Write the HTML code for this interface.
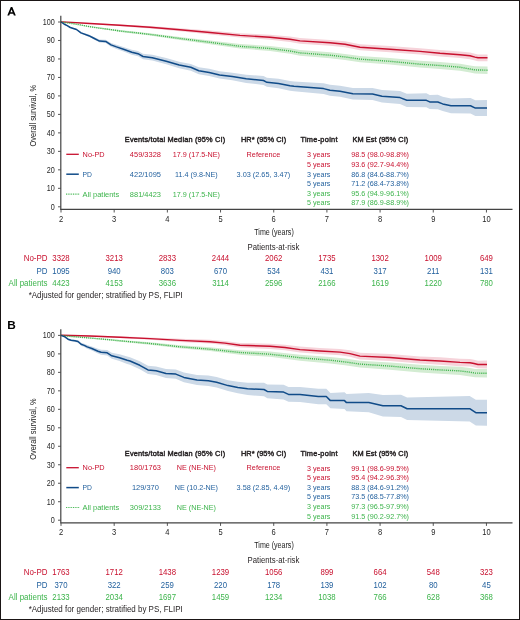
<!DOCTYPE html>
<html><head><meta charset="utf-8"><style>
html,body{margin:0;padding:0;background:#fff;}
svg{display:block;font-family:"Liberation Sans", sans-serif;will-change:transform;}
</style></head><body>
<svg width="520" height="620" viewBox="0 0 520 620">
<rect x="0" y="0" width="520" height="620" fill="#fff"/>
<path transform="translate(0,0.00)" fill-rule="evenodd" fill="#000" d="M7.3,15.6 L10.8,7.1 L12.3,7.1 L15.8,15.6 L13.9,15.6 L13.2,13.8 L9.9,13.8 L9.2,15.6 Z M10.45,12.3 L12.65,12.3 L11.55,9.4 Z"/>
<polygon points="61.00,21.80 70.00,22.90 80.00,24.48 90.00,26.17 100.00,27.55 110.00,28.74 120.00,30.12 150.00,33.18 180.00,36.93 210.00,40.40 240.00,44.10 270.00,46.00 290.00,48.30 300.00,50.10 330.00,52.26 345.00,53.88 360.00,56.01 390.00,58.07 420.00,60.82 440.00,62.03 460.00,63.63 470.00,65.38 475.00,66.26 487.50,66.50 487.50,73.90 475.00,73.54 470.00,72.62 460.00,70.77 440.00,68.97 420.00,67.58 390.00,64.53 360.00,62.19 345.00,59.92 330.00,58.14 300.00,55.70 290.00,53.70 270.00,51.00 240.00,48.50 210.00,44.20 180.00,40.07 150.00,35.62 120.00,31.88 110.00,30.26 100.00,28.85 90.00,27.23 80.00,25.32 70.00,23.50 61.00,22.20" fill="#d3ecd2" stroke="none"/>
<polygon points="61.00,21.80 62.30,21.69 90.00,22.97 120.00,24.42 150.00,26.08 180.00,28.23 210.00,30.60 240.00,33.20 270.00,34.70 290.00,36.50 300.00,38.10 330.00,39.90 345.00,41.26 360.00,44.31 390.00,46.11 420.00,48.21 440.00,50.05 460.00,51.39 470.00,52.45 475.00,53.74 478.00,54.43 487.50,54.40 487.50,61.20 478.00,61.17 475.00,60.46 470.00,59.15 460.00,58.01 440.00,56.55 420.00,54.59 390.00,52.29 360.00,50.29 345.00,47.14 330.00,45.70 300.00,43.70 290.00,41.90 270.00,39.70 240.00,37.60 210.00,34.40 180.00,31.37 150.00,28.52 120.00,26.18 90.00,24.03 62.30,22.11 61.00,22.20" fill="#f6d3da" stroke="none"/>
<polygon points="61.00,21.70 64.00,23.61 67.20,25.21 70.30,26.91 76.50,28.72 81.00,31.98 88.80,34.54 93.40,36.70 99.50,39.62 105.70,39.71 111.00,43.03 116.50,44.85 124.20,47.19 131.80,49.67 138.00,51.07 143.00,53.79 152.30,54.84 166.20,58.12 179.20,61.71 190.80,63.89 198.80,67.31 209.20,68.81 219.60,71.20 232.30,72.66 246.20,74.71 263.50,76.10 266.90,77.84 278.50,78.83 290.00,80.95 294.00,81.40 323.60,83.27 330.00,84.87 340.00,85.63 352.90,87.94 372.50,87.95 382.00,90.12 400.00,91.12 406.80,93.71 426.40,93.36 429.70,94.91 437.80,94.86 442.70,96.68 451.00,98.43 470.50,98.09 475.40,100.30 487.00,100.10 487.00,116.10 475.40,115.90 470.50,113.51 451.00,113.17 442.70,111.12 437.80,109.14 429.70,108.89 426.40,107.24 406.80,106.89 400.00,104.07 382.00,102.48 372.50,100.05 352.90,99.46 340.00,96.77 330.00,95.73 323.60,93.93 294.00,91.20 290.00,90.65 278.50,88.17 266.90,86.76 263.50,84.90 246.20,82.89 232.30,80.34 219.60,78.60 209.20,75.99 198.80,74.29 190.80,70.71 179.20,68.29 166.20,64.28 152.30,60.56 143.00,59.21 138.00,56.33 131.80,54.73 124.20,51.81 116.50,48.95 111.00,46.77 105.70,43.09 99.50,42.58 93.40,39.30 88.80,36.86 81.00,33.82 76.50,30.28 70.30,28.09 67.20,26.19 64.00,24.39 61.00,22.30" fill="#ccd9e7" stroke="none"/>
<polyline points="61.00,22.00 62.30,21.90 90.00,23.50 120.00,25.30 150.00,27.30 180.00,29.80 210.00,32.50 240.00,35.40 270.00,37.20 290.00,39.20 300.00,40.90 330.00,42.80 345.00,44.20 360.00,47.30 390.00,49.20 420.00,51.40 440.00,53.30 460.00,54.70 470.00,55.80 475.00,57.10 478.00,57.80 487.50,57.80" fill="none" stroke="#c8102e" stroke-width="1.45" stroke-linejoin="round"/>
<polyline points="61.00,22.00 70.00,23.20 80.00,24.90 90.00,26.70 100.00,28.20 110.00,29.50 120.00,31.00 150.00,34.40 180.00,38.50 210.00,42.30 240.00,46.30 270.00,48.50 290.00,51.00 300.00,52.90 330.00,55.20 345.00,56.90 360.00,59.10 390.00,61.30 420.00,64.20 440.00,65.50 460.00,67.20 470.00,69.00 475.00,69.90 487.50,70.20" fill="none" stroke="#3cb44b" stroke-width="1.4" stroke-linejoin="round" stroke-dasharray="1.1 1.0"/>
<polyline points="61.00,22.00 64.00,24.00 67.20,25.70 70.30,27.50 76.50,29.50 81.00,32.90 88.80,35.70 93.40,38.00 99.50,41.10 105.70,41.40 111.00,44.90 116.50,46.90 124.20,49.50 131.80,52.20 138.00,53.70 143.00,56.50 152.30,57.70 166.20,61.20 179.20,65.00 190.80,67.30 198.80,70.80 209.20,72.40 219.60,74.90 232.30,76.50 246.20,78.80 263.50,80.50 266.90,82.30 278.50,83.50 290.00,85.80 294.00,86.30 323.60,88.60 330.00,90.30 340.00,91.20 352.90,93.70 372.50,94.00 382.00,96.30 400.00,97.60 406.80,100.30 426.40,100.30 429.70,101.90 437.80,102.00 442.70,103.90 451.00,105.80 470.50,105.80 475.40,108.10 487.00,108.10" fill="none" stroke="#104b88" stroke-width="1.5" stroke-linejoin="round"/>
<line x1="60.8" y1="15.80" x2="60.8" y2="209.40" stroke="#434343" stroke-width="1.2"/>
<line x1="60.2" y1="209.40" x2="512.5" y2="209.40" stroke="#434343" stroke-width="1.3"/>
<line x1="58" y1="206.80" x2="60.8" y2="206.80" stroke="#434343" stroke-width="0.9"/>
<text x="54.80" y="209.65" font-size="8.9" fill="#262626" text-anchor="end" font-weight="400" textLength="4.00" lengthAdjust="spacingAndGlyphs">0</text>
<line x1="58" y1="188.32" x2="60.8" y2="188.32" stroke="#434343" stroke-width="0.9"/>
<text x="54.80" y="191.17" font-size="8.9" fill="#262626" text-anchor="end" font-weight="400" textLength="8.00" lengthAdjust="spacingAndGlyphs">10</text>
<line x1="58" y1="169.84" x2="60.8" y2="169.84" stroke="#434343" stroke-width="0.9"/>
<text x="54.80" y="172.69" font-size="8.9" fill="#262626" text-anchor="end" font-weight="400" textLength="8.00" lengthAdjust="spacingAndGlyphs">20</text>
<line x1="58" y1="151.36" x2="60.8" y2="151.36" stroke="#434343" stroke-width="0.9"/>
<text x="54.80" y="154.21" font-size="8.9" fill="#262626" text-anchor="end" font-weight="400" textLength="8.00" lengthAdjust="spacingAndGlyphs">30</text>
<line x1="58" y1="132.88" x2="60.8" y2="132.88" stroke="#434343" stroke-width="0.9"/>
<text x="54.80" y="135.73" font-size="8.9" fill="#262626" text-anchor="end" font-weight="400" textLength="8.00" lengthAdjust="spacingAndGlyphs">40</text>
<line x1="58" y1="114.40" x2="60.8" y2="114.40" stroke="#434343" stroke-width="0.9"/>
<text x="54.80" y="117.25" font-size="8.9" fill="#262626" text-anchor="end" font-weight="400" textLength="8.00" lengthAdjust="spacingAndGlyphs">50</text>
<line x1="58" y1="95.92" x2="60.8" y2="95.92" stroke="#434343" stroke-width="0.9"/>
<text x="54.80" y="98.77" font-size="8.9" fill="#262626" text-anchor="end" font-weight="400" textLength="8.00" lengthAdjust="spacingAndGlyphs">60</text>
<line x1="58" y1="77.44" x2="60.8" y2="77.44" stroke="#434343" stroke-width="0.9"/>
<text x="54.80" y="80.29" font-size="8.9" fill="#262626" text-anchor="end" font-weight="400" textLength="8.00" lengthAdjust="spacingAndGlyphs">70</text>
<line x1="58" y1="58.96" x2="60.8" y2="58.96" stroke="#434343" stroke-width="0.9"/>
<text x="54.80" y="61.81" font-size="8.9" fill="#262626" text-anchor="end" font-weight="400" textLength="8.00" lengthAdjust="spacingAndGlyphs">80</text>
<line x1="58" y1="40.48" x2="60.8" y2="40.48" stroke="#434343" stroke-width="0.9"/>
<text x="54.80" y="43.33" font-size="8.9" fill="#262626" text-anchor="end" font-weight="400" textLength="8.00" lengthAdjust="spacingAndGlyphs">90</text>
<line x1="58" y1="22.00" x2="60.8" y2="22.00" stroke="#434343" stroke-width="0.9"/>
<text x="54.80" y="24.85" font-size="8.9" fill="#262626" text-anchor="end" font-weight="400" textLength="12.00" lengthAdjust="spacingAndGlyphs">100</text>
<line x1="61.00" y1="209.40" x2="61.00" y2="212.50" stroke="#434343" stroke-width="0.9"/>
<text x="61.00" y="221.90" font-size="8.8" fill="#262626" text-anchor="middle" font-weight="400" textLength="4.20" lengthAdjust="spacingAndGlyphs">2</text>
<line x1="114.18" y1="209.40" x2="114.18" y2="212.50" stroke="#434343" stroke-width="0.9"/>
<text x="114.18" y="221.90" font-size="8.8" fill="#262626" text-anchor="middle" font-weight="400" textLength="4.20" lengthAdjust="spacingAndGlyphs">3</text>
<line x1="167.36" y1="209.40" x2="167.36" y2="212.50" stroke="#434343" stroke-width="0.9"/>
<text x="167.36" y="221.90" font-size="8.8" fill="#262626" text-anchor="middle" font-weight="400" textLength="4.20" lengthAdjust="spacingAndGlyphs">4</text>
<line x1="220.54" y1="209.40" x2="220.54" y2="212.50" stroke="#434343" stroke-width="0.9"/>
<text x="220.54" y="221.90" font-size="8.8" fill="#262626" text-anchor="middle" font-weight="400" textLength="4.20" lengthAdjust="spacingAndGlyphs">5</text>
<line x1="273.72" y1="209.40" x2="273.72" y2="212.50" stroke="#434343" stroke-width="0.9"/>
<text x="273.72" y="221.90" font-size="8.8" fill="#262626" text-anchor="middle" font-weight="400" textLength="4.20" lengthAdjust="spacingAndGlyphs">6</text>
<line x1="326.90" y1="209.40" x2="326.90" y2="212.50" stroke="#434343" stroke-width="0.9"/>
<text x="326.90" y="221.90" font-size="8.8" fill="#262626" text-anchor="middle" font-weight="400" textLength="4.20" lengthAdjust="spacingAndGlyphs">7</text>
<line x1="380.08" y1="209.40" x2="380.08" y2="212.50" stroke="#434343" stroke-width="0.9"/>
<text x="380.08" y="221.90" font-size="8.8" fill="#262626" text-anchor="middle" font-weight="400" textLength="4.20" lengthAdjust="spacingAndGlyphs">8</text>
<line x1="433.26" y1="209.40" x2="433.26" y2="212.50" stroke="#434343" stroke-width="0.9"/>
<text x="433.26" y="221.90" font-size="8.8" fill="#262626" text-anchor="middle" font-weight="400" textLength="4.20" lengthAdjust="spacingAndGlyphs">9</text>
<line x1="486.44" y1="209.40" x2="486.44" y2="212.50" stroke="#434343" stroke-width="0.9"/>
<text x="486.44" y="221.90" font-size="8.8" fill="#262626" text-anchor="middle" font-weight="400" textLength="8.40" lengthAdjust="spacingAndGlyphs">10</text>
<text transform="translate(35.9,115.70) rotate(-90)" font-size="9" fill="#222" text-anchor="middle" textLength="61.5" lengthAdjust="spacingAndGlyphs">Overall survival, %</text>
<text x="274.00" y="235.00" font-size="9.2" fill="#222" text-anchor="middle" font-weight="400" textLength="39.50" lengthAdjust="spacingAndGlyphs">Time (years)</text>
<text x="273.50" y="249.90" font-size="8.2" fill="#231f20" text-anchor="middle" font-weight="400" textLength="51.80" lengthAdjust="spacingAndGlyphs">Patients-at-risk</text>
<line x1="66.3" y1="154.30" x2="78.8" y2="154.30" stroke="#c8102e" stroke-width="1.3"/>
<line x1="66.3" y1="174.20" x2="78.8" y2="174.20" stroke="#104b88" stroke-width="1.5"/>
<line x1="66.0" y1="194.10" x2="79.6" y2="194.10" stroke="#3cb44b" stroke-width="1.1" stroke-dasharray="0.9 0.85"/>
<text x="82.60" y="157.00" font-size="8.1" fill="#c8102e" text-anchor="start" font-weight="400" textLength="22.00" lengthAdjust="spacingAndGlyphs">No-PD</text>
<text x="82.60" y="176.80" font-size="8.1" fill="#1f5e9c" text-anchor="start" font-weight="400" textLength="9.40" lengthAdjust="spacingAndGlyphs">PD</text>
<text x="82.60" y="196.50" font-size="8.1" fill="#3cb44b" text-anchor="start" font-weight="400" textLength="36.60" lengthAdjust="spacingAndGlyphs">All patients</text>
<text x="124.80" y="142.20" font-size="7.4" fill="#231f20" text-anchor="start" font-weight="400" textLength="100.40" lengthAdjust="spacing" stroke="#231f20" stroke-width="0.42" stroke-linejoin="round">Events/total Median (95% CI)</text>
<text x="241.00" y="142.20" font-size="7.4" fill="#231f20" text-anchor="start" font-weight="400" textLength="45.10" lengthAdjust="spacing" stroke="#231f20" stroke-width="0.42" stroke-linejoin="round">HR* (95% CI)</text>
<text x="300.40" y="142.20" font-size="7.4" fill="#231f20" text-anchor="start" font-weight="400" textLength="37.10" lengthAdjust="spacing" stroke="#231f20" stroke-width="0.42" stroke-linejoin="round">Time-point</text>
<text x="352.50" y="142.20" font-size="7.4" fill="#231f20" text-anchor="start" font-weight="400" textLength="55.70" lengthAdjust="spacing" stroke="#231f20" stroke-width="0.42" stroke-linejoin="round">KM Est (95% CI)</text>
<text x="145.40" y="157.00" font-size="8.0" fill="#c8102e" text-anchor="middle" font-weight="400" textLength="31.07" lengthAdjust="spacingAndGlyphs">459/3328</text>
<text x="196.40" y="157.00" font-size="8.0" fill="#c8102e" text-anchor="middle" font-weight="400" textLength="47.22" lengthAdjust="spacingAndGlyphs">17.9 (17.5-NE)</text>
<text x="263.40" y="157.00" font-size="8.0" fill="#c8102e" text-anchor="middle" font-weight="400" textLength="33.68" lengthAdjust="spacingAndGlyphs">Reference</text>
<text x="145.40" y="176.80" font-size="8.0" fill="#1f5e9c" text-anchor="middle" font-weight="400" textLength="31.07" lengthAdjust="spacingAndGlyphs">422/1095</text>
<text x="196.40" y="176.80" font-size="8.0" fill="#1f5e9c" text-anchor="middle" font-weight="400" textLength="42.68" lengthAdjust="spacingAndGlyphs">11.4 (9.8-NE)</text>
<text x="263.40" y="176.80" font-size="8.0" fill="#1f5e9c" text-anchor="middle" font-weight="400" textLength="53.56" lengthAdjust="spacingAndGlyphs">3.03 (2.65, 3.47)</text>
<text x="145.40" y="196.50" font-size="8.0" fill="#3cb44b" text-anchor="middle" font-weight="400" textLength="31.07" lengthAdjust="spacingAndGlyphs">881/4423</text>
<text x="196.40" y="196.50" font-size="8.0" fill="#3cb44b" text-anchor="middle" font-weight="400" textLength="47.22" lengthAdjust="spacingAndGlyphs">17.9 (17.5-NE)</text>
<text x="318.70" y="157.20" font-size="8.0" fill="#c8102e" text-anchor="middle" font-weight="400" textLength="23.40" lengthAdjust="spacingAndGlyphs">3 years</text>
<text x="380.10" y="157.20" font-size="8.0" fill="#c8102e" text-anchor="middle" font-weight="400" textLength="57.79" lengthAdjust="spacingAndGlyphs">98.5 (98.0-98.8%)</text>
<text x="318.70" y="166.60" font-size="8.0" fill="#c8102e" text-anchor="middle" font-weight="400" textLength="23.40" lengthAdjust="spacingAndGlyphs">5 years</text>
<text x="380.10" y="166.60" font-size="8.0" fill="#c8102e" text-anchor="middle" font-weight="400" textLength="57.79" lengthAdjust="spacingAndGlyphs">93.6 (92.7-94.4%)</text>
<text x="318.70" y="176.50" font-size="8.0" fill="#1f5e9c" text-anchor="middle" font-weight="400" textLength="23.40" lengthAdjust="spacingAndGlyphs">3 years</text>
<text x="380.10" y="176.50" font-size="8.0" fill="#1f5e9c" text-anchor="middle" font-weight="400" textLength="57.79" lengthAdjust="spacingAndGlyphs">86.8 (84.6-88.7%)</text>
<text x="318.70" y="185.80" font-size="8.0" fill="#1f5e9c" text-anchor="middle" font-weight="400" textLength="23.40" lengthAdjust="spacingAndGlyphs">5 years</text>
<text x="380.10" y="185.80" font-size="8.0" fill="#1f5e9c" text-anchor="middle" font-weight="400" textLength="57.79" lengthAdjust="spacingAndGlyphs">71.2 (68.4-73.8%)</text>
<text x="318.70" y="195.60" font-size="8.0" fill="#3cb44b" text-anchor="middle" font-weight="400" textLength="23.40" lengthAdjust="spacingAndGlyphs">3 years</text>
<text x="380.10" y="195.60" font-size="8.0" fill="#3cb44b" text-anchor="middle" font-weight="400" textLength="57.79" lengthAdjust="spacingAndGlyphs">95.6 (94.9-96.1%)</text>
<text x="318.70" y="205.20" font-size="8.0" fill="#3cb44b" text-anchor="middle" font-weight="400" textLength="23.40" lengthAdjust="spacingAndGlyphs">5 years</text>
<text x="380.10" y="205.20" font-size="8.0" fill="#3cb44b" text-anchor="middle" font-weight="400" textLength="57.79" lengthAdjust="spacingAndGlyphs">87.9 (86.9-88.9%)</text>
<text x="47.50" y="261.00" font-size="8.6" fill="#c8102e" text-anchor="end" font-weight="400" textLength="23.85" lengthAdjust="spacingAndGlyphs">No-PD</text>
<text x="61.00" y="261.00" font-size="8.6" fill="#c8102e" text-anchor="middle" font-weight="400" textLength="17.35" lengthAdjust="spacingAndGlyphs">3328</text>
<text x="114.18" y="261.00" font-size="8.6" fill="#c8102e" text-anchor="middle" font-weight="400" textLength="17.35" lengthAdjust="spacingAndGlyphs">3213</text>
<text x="167.36" y="261.00" font-size="8.6" fill="#c8102e" text-anchor="middle" font-weight="400" textLength="17.35" lengthAdjust="spacingAndGlyphs">2833</text>
<text x="220.54" y="261.00" font-size="8.6" fill="#c8102e" text-anchor="middle" font-weight="400" textLength="17.35" lengthAdjust="spacingAndGlyphs">2444</text>
<text x="273.72" y="261.00" font-size="8.6" fill="#c8102e" text-anchor="middle" font-weight="400" textLength="17.35" lengthAdjust="spacingAndGlyphs">2062</text>
<text x="326.90" y="261.00" font-size="8.6" fill="#c8102e" text-anchor="middle" font-weight="400" textLength="17.35" lengthAdjust="spacingAndGlyphs">1735</text>
<text x="380.08" y="261.00" font-size="8.6" fill="#c8102e" text-anchor="middle" font-weight="400" textLength="17.35" lengthAdjust="spacingAndGlyphs">1302</text>
<text x="433.26" y="261.00" font-size="8.6" fill="#c8102e" text-anchor="middle" font-weight="400" textLength="17.35" lengthAdjust="spacingAndGlyphs">1009</text>
<text x="486.44" y="261.00" font-size="8.6" fill="#c8102e" text-anchor="middle" font-weight="400" textLength="13.01" lengthAdjust="spacingAndGlyphs">649</text>
<text x="47.50" y="273.60" font-size="8.6" fill="#1f5e9c" text-anchor="end" font-weight="400" textLength="11.04" lengthAdjust="spacingAndGlyphs">PD</text>
<text x="61.00" y="273.60" font-size="8.6" fill="#1f5e9c" text-anchor="middle" font-weight="400" textLength="17.35" lengthAdjust="spacingAndGlyphs">1095</text>
<text x="114.18" y="273.60" font-size="8.6" fill="#1f5e9c" text-anchor="middle" font-weight="400" textLength="13.01" lengthAdjust="spacingAndGlyphs">940</text>
<text x="167.36" y="273.60" font-size="8.6" fill="#1f5e9c" text-anchor="middle" font-weight="400" textLength="13.01" lengthAdjust="spacingAndGlyphs">803</text>
<text x="220.54" y="273.60" font-size="8.6" fill="#1f5e9c" text-anchor="middle" font-weight="400" textLength="13.01" lengthAdjust="spacingAndGlyphs">670</text>
<text x="273.72" y="273.60" font-size="8.6" fill="#1f5e9c" text-anchor="middle" font-weight="400" textLength="13.01" lengthAdjust="spacingAndGlyphs">534</text>
<text x="326.90" y="273.60" font-size="8.6" fill="#1f5e9c" text-anchor="middle" font-weight="400" textLength="13.01" lengthAdjust="spacingAndGlyphs">431</text>
<text x="380.08" y="273.60" font-size="8.6" fill="#1f5e9c" text-anchor="middle" font-weight="400" textLength="13.01" lengthAdjust="spacingAndGlyphs">317</text>
<text x="433.26" y="273.60" font-size="8.6" fill="#1f5e9c" text-anchor="middle" font-weight="400" textLength="12.43" lengthAdjust="spacingAndGlyphs">211</text>
<text x="486.44" y="273.60" font-size="8.6" fill="#1f5e9c" text-anchor="middle" font-weight="400" textLength="13.01" lengthAdjust="spacingAndGlyphs">131</text>
<text x="47.50" y="286.00" font-size="8.6" fill="#3cb44b" text-anchor="end" font-weight="400" textLength="38.89" lengthAdjust="spacingAndGlyphs">All patients</text>
<text x="61.00" y="286.00" font-size="8.6" fill="#3cb44b" text-anchor="middle" font-weight="400" textLength="17.35" lengthAdjust="spacingAndGlyphs">4423</text>
<text x="114.18" y="286.00" font-size="8.6" fill="#3cb44b" text-anchor="middle" font-weight="400" textLength="17.35" lengthAdjust="spacingAndGlyphs">4153</text>
<text x="167.36" y="286.00" font-size="8.6" fill="#3cb44b" text-anchor="middle" font-weight="400" textLength="17.35" lengthAdjust="spacingAndGlyphs">3636</text>
<text x="220.54" y="286.00" font-size="8.6" fill="#3cb44b" text-anchor="middle" font-weight="400" textLength="16.77" lengthAdjust="spacingAndGlyphs">3114</text>
<text x="273.72" y="286.00" font-size="8.6" fill="#3cb44b" text-anchor="middle" font-weight="400" textLength="17.35" lengthAdjust="spacingAndGlyphs">2596</text>
<text x="326.90" y="286.00" font-size="8.6" fill="#3cb44b" text-anchor="middle" font-weight="400" textLength="17.35" lengthAdjust="spacingAndGlyphs">2166</text>
<text x="380.08" y="286.00" font-size="8.6" fill="#3cb44b" text-anchor="middle" font-weight="400" textLength="17.35" lengthAdjust="spacingAndGlyphs">1619</text>
<text x="433.26" y="286.00" font-size="8.6" fill="#3cb44b" text-anchor="middle" font-weight="400" textLength="17.35" lengthAdjust="spacingAndGlyphs">1220</text>
<text x="486.44" y="286.00" font-size="8.6" fill="#3cb44b" text-anchor="middle" font-weight="400" textLength="13.01" lengthAdjust="spacingAndGlyphs">780</text>
<text x="28.70" y="297.90" font-size="8.7" fill="#231f20" text-anchor="start" font-weight="400" textLength="154.00" lengthAdjust="spacingAndGlyphs">*Adjusted for gender; stratified by PS, FLIPI</text>
<text x="7.30" y="329.00" font-size="11.8" fill="#000" text-anchor="start" font-weight="700">B</text>
<polygon points="61.00,335.20 70.00,336.10 80.00,336.78 90.00,337.47 100.00,338.25 110.00,339.04 120.00,339.92 150.00,342.28 180.00,345.23 210.00,347.28 240.00,350.22 270.00,351.56 300.00,354.70 330.00,356.99 345.00,358.59 360.00,360.68 390.00,362.47 420.00,364.87 440.00,365.93 460.00,366.79 470.00,368.02 475.00,368.88 487.00,369.00 487.00,377.60 475.00,377.32 470.00,376.38 460.00,375.01 440.00,373.87 420.00,372.53 390.00,369.73 360.00,367.52 345.00,365.21 330.00,363.41 300.00,360.70 270.00,356.84 240.00,354.78 210.00,351.12 180.00,348.37 150.00,344.72 120.00,341.68 110.00,340.56 100.00,339.55 90.00,338.53 80.00,337.62 70.00,336.70 61.00,335.60" fill="#d3ecd2" stroke="none"/>
<polygon points="61.00,335.20 62.00,334.99 90.00,335.47 120.00,336.32 150.00,337.38 180.00,338.83 210.00,339.78 225.00,341.00 240.00,343.02 270.00,343.66 285.00,344.68 300.00,346.60 320.00,347.90 340.00,348.91 350.00,350.36 360.00,352.81 390.00,354.07 420.00,356.42 440.00,357.33 460.00,358.63 470.00,358.98 474.00,359.66 478.00,360.64 487.00,360.60 487.00,368.40 478.00,368.36 474.00,367.34 470.00,366.62 460.00,366.17 440.00,364.67 420.00,363.58 390.00,360.93 360.00,359.39 350.00,356.84 340.00,355.29 320.00,354.10 300.00,352.60 285.00,350.32 270.00,348.94 240.00,347.58 225.00,345.20 210.00,343.62 180.00,341.97 150.00,339.82 120.00,338.08 90.00,336.53 62.00,335.41 61.00,335.60" fill="#f6d3da" stroke="none"/>
<polygon points="61.00,335.10 64.90,336.38 68.00,338.51 71.10,339.43 74.90,339.72 78.00,340.24 81.10,342.87 84.20,343.79 87.20,345.12 91.80,346.46 98.00,348.81 101.10,349.75 107.20,349.99 111.80,352.79 119.50,354.35 127.20,356.62 130.00,357.20 139.80,361.30 148.00,365.74 156.10,366.48 166.00,368.98 175.80,369.38 183.90,372.55 197.00,374.96 208.40,375.50 216.60,376.99 228.00,380.13 237.80,381.70 247.60,382.63 264.00,382.71 267.30,384.48 283.60,384.68 288.50,386.95 300.00,386.98 318.30,388.87 326.30,388.82 330.40,392.88 344.50,392.16 346.50,394.06 368.80,392.92 382.90,395.01 401.00,394.67 407.10,397.52 469.70,395.93 475.80,399.85 487.00,399.70 487.00,425.70 475.80,425.55 469.70,421.47 407.10,419.88 401.00,416.93 382.90,416.59 368.80,412.28 346.50,411.14 344.50,409.04 330.40,408.32 326.30,404.18 318.30,404.13 300.00,402.02 288.50,401.85 283.60,399.52 267.30,398.32 264.00,396.29 247.60,394.97 237.80,393.30 228.00,391.07 216.60,387.61 208.40,385.90 197.00,385.04 183.90,382.25 175.80,378.82 166.00,378.02 156.10,375.12 148.00,374.06 139.80,369.30 130.00,364.80 127.20,363.98 119.50,361.05 111.80,358.81 107.20,355.61 101.10,354.85 98.00,353.59 91.80,350.54 87.20,348.68 84.20,347.01 81.10,345.73 78.00,342.76 74.90,341.88 71.10,341.17 68.00,339.89 64.90,337.42 61.00,335.70" fill="#ccd9e7" stroke="none"/>
<polyline points="61.00,335.40 62.00,335.20 90.00,336.00 120.00,337.20 150.00,338.60 180.00,340.40 210.00,341.70 225.00,343.10 240.00,345.30 270.00,346.30 285.00,347.50 300.00,349.60 320.00,351.00 340.00,352.10 350.00,353.60 360.00,356.10 390.00,357.50 420.00,360.00 440.00,361.00 460.00,362.40 470.00,362.80 474.00,363.50 478.00,364.50 487.00,364.50" fill="none" stroke="#c8102e" stroke-width="1.45" stroke-linejoin="round"/>
<polyline points="61.00,335.40 70.00,336.40 80.00,337.20 90.00,338.00 100.00,338.90 110.00,339.80 120.00,340.80 150.00,343.50 180.00,346.80 210.00,349.20 240.00,352.50 270.00,354.20 300.00,357.70 330.00,360.20 345.00,361.90 360.00,364.10 390.00,366.10 420.00,368.70 440.00,369.90 460.00,370.90 470.00,372.20 475.00,373.10 487.00,373.30" fill="none" stroke="#3cb44b" stroke-width="1.4" stroke-linejoin="round" stroke-dasharray="1.1 1.0"/>
<polyline points="61.00,335.40 64.90,336.90 68.00,339.20 71.10,340.30 74.90,340.80 78.00,341.50 81.10,344.30 84.20,345.40 87.20,346.90 91.80,348.50 98.00,351.20 101.10,352.30 107.20,352.80 111.80,355.80 119.50,357.70 127.20,360.30 130.00,361.00 139.80,365.30 148.00,369.90 156.10,370.80 166.00,373.50 175.80,374.10 183.90,377.40 197.00,380.00 208.40,380.70 216.60,382.30 228.00,385.60 237.80,387.50 247.60,388.80 264.00,389.50 267.30,391.40 283.60,392.10 288.50,394.40 300.00,394.50 318.30,396.50 326.30,396.50 330.40,400.60 344.50,400.60 346.50,402.60 368.80,402.60 382.90,405.80 401.00,405.80 407.10,408.70 469.70,408.70 475.80,412.70 487.00,412.70" fill="none" stroke="#104b88" stroke-width="1.5" stroke-linejoin="round"/>
<line x1="60.8" y1="329.20" x2="60.8" y2="522.80" stroke="#434343" stroke-width="1.2"/>
<line x1="60.2" y1="522.80" x2="512.5" y2="522.80" stroke="#434343" stroke-width="1.3"/>
<line x1="58" y1="520.20" x2="60.8" y2="520.20" stroke="#434343" stroke-width="0.9"/>
<text x="54.80" y="523.05" font-size="8.9" fill="#262626" text-anchor="end" font-weight="400" textLength="4.00" lengthAdjust="spacingAndGlyphs">0</text>
<line x1="58" y1="501.72" x2="60.8" y2="501.72" stroke="#434343" stroke-width="0.9"/>
<text x="54.80" y="504.57" font-size="8.9" fill="#262626" text-anchor="end" font-weight="400" textLength="8.00" lengthAdjust="spacingAndGlyphs">10</text>
<line x1="58" y1="483.24" x2="60.8" y2="483.24" stroke="#434343" stroke-width="0.9"/>
<text x="54.80" y="486.09" font-size="8.9" fill="#262626" text-anchor="end" font-weight="400" textLength="8.00" lengthAdjust="spacingAndGlyphs">20</text>
<line x1="58" y1="464.76" x2="60.8" y2="464.76" stroke="#434343" stroke-width="0.9"/>
<text x="54.80" y="467.61" font-size="8.9" fill="#262626" text-anchor="end" font-weight="400" textLength="8.00" lengthAdjust="spacingAndGlyphs">30</text>
<line x1="58" y1="446.28" x2="60.8" y2="446.28" stroke="#434343" stroke-width="0.9"/>
<text x="54.80" y="449.13" font-size="8.9" fill="#262626" text-anchor="end" font-weight="400" textLength="8.00" lengthAdjust="spacingAndGlyphs">40</text>
<line x1="58" y1="427.80" x2="60.8" y2="427.80" stroke="#434343" stroke-width="0.9"/>
<text x="54.80" y="430.65" font-size="8.9" fill="#262626" text-anchor="end" font-weight="400" textLength="8.00" lengthAdjust="spacingAndGlyphs">50</text>
<line x1="58" y1="409.32" x2="60.8" y2="409.32" stroke="#434343" stroke-width="0.9"/>
<text x="54.80" y="412.17" font-size="8.9" fill="#262626" text-anchor="end" font-weight="400" textLength="8.00" lengthAdjust="spacingAndGlyphs">60</text>
<line x1="58" y1="390.84" x2="60.8" y2="390.84" stroke="#434343" stroke-width="0.9"/>
<text x="54.80" y="393.69" font-size="8.9" fill="#262626" text-anchor="end" font-weight="400" textLength="8.00" lengthAdjust="spacingAndGlyphs">70</text>
<line x1="58" y1="372.36" x2="60.8" y2="372.36" stroke="#434343" stroke-width="0.9"/>
<text x="54.80" y="375.21" font-size="8.9" fill="#262626" text-anchor="end" font-weight="400" textLength="8.00" lengthAdjust="spacingAndGlyphs">80</text>
<line x1="58" y1="353.88" x2="60.8" y2="353.88" stroke="#434343" stroke-width="0.9"/>
<text x="54.80" y="356.73" font-size="8.9" fill="#262626" text-anchor="end" font-weight="400" textLength="8.00" lengthAdjust="spacingAndGlyphs">90</text>
<line x1="58" y1="335.40" x2="60.8" y2="335.40" stroke="#434343" stroke-width="0.9"/>
<text x="54.80" y="338.25" font-size="8.9" fill="#262626" text-anchor="end" font-weight="400" textLength="12.00" lengthAdjust="spacingAndGlyphs">100</text>
<line x1="61.00" y1="522.80" x2="61.00" y2="525.90" stroke="#434343" stroke-width="0.9"/>
<text x="61.00" y="535.30" font-size="8.8" fill="#262626" text-anchor="middle" font-weight="400" textLength="4.20" lengthAdjust="spacingAndGlyphs">2</text>
<line x1="114.18" y1="522.80" x2="114.18" y2="525.90" stroke="#434343" stroke-width="0.9"/>
<text x="114.18" y="535.30" font-size="8.8" fill="#262626" text-anchor="middle" font-weight="400" textLength="4.20" lengthAdjust="spacingAndGlyphs">3</text>
<line x1="167.36" y1="522.80" x2="167.36" y2="525.90" stroke="#434343" stroke-width="0.9"/>
<text x="167.36" y="535.30" font-size="8.8" fill="#262626" text-anchor="middle" font-weight="400" textLength="4.20" lengthAdjust="spacingAndGlyphs">4</text>
<line x1="220.54" y1="522.80" x2="220.54" y2="525.90" stroke="#434343" stroke-width="0.9"/>
<text x="220.54" y="535.30" font-size="8.8" fill="#262626" text-anchor="middle" font-weight="400" textLength="4.20" lengthAdjust="spacingAndGlyphs">5</text>
<line x1="273.72" y1="522.80" x2="273.72" y2="525.90" stroke="#434343" stroke-width="0.9"/>
<text x="273.72" y="535.30" font-size="8.8" fill="#262626" text-anchor="middle" font-weight="400" textLength="4.20" lengthAdjust="spacingAndGlyphs">6</text>
<line x1="326.90" y1="522.80" x2="326.90" y2="525.90" stroke="#434343" stroke-width="0.9"/>
<text x="326.90" y="535.30" font-size="8.8" fill="#262626" text-anchor="middle" font-weight="400" textLength="4.20" lengthAdjust="spacingAndGlyphs">7</text>
<line x1="380.08" y1="522.80" x2="380.08" y2="525.90" stroke="#434343" stroke-width="0.9"/>
<text x="380.08" y="535.30" font-size="8.8" fill="#262626" text-anchor="middle" font-weight="400" textLength="4.20" lengthAdjust="spacingAndGlyphs">8</text>
<line x1="433.26" y1="522.80" x2="433.26" y2="525.90" stroke="#434343" stroke-width="0.9"/>
<text x="433.26" y="535.30" font-size="8.8" fill="#262626" text-anchor="middle" font-weight="400" textLength="4.20" lengthAdjust="spacingAndGlyphs">9</text>
<line x1="486.44" y1="522.80" x2="486.44" y2="525.90" stroke="#434343" stroke-width="0.9"/>
<text x="486.44" y="535.30" font-size="8.8" fill="#262626" text-anchor="middle" font-weight="400" textLength="8.40" lengthAdjust="spacingAndGlyphs">10</text>
<text transform="translate(35.9,429.10) rotate(-90)" font-size="9" fill="#222" text-anchor="middle" textLength="61.5" lengthAdjust="spacingAndGlyphs">Overall survival, %</text>
<text x="274.00" y="548.40" font-size="9.2" fill="#222" text-anchor="middle" font-weight="400" textLength="39.50" lengthAdjust="spacingAndGlyphs">Time (years)</text>
<text x="273.50" y="563.30" font-size="8.2" fill="#231f20" text-anchor="middle" font-weight="400" textLength="51.80" lengthAdjust="spacingAndGlyphs">Patients-at-risk</text>
<line x1="66.3" y1="467.70" x2="78.8" y2="467.70" stroke="#c8102e" stroke-width="1.3"/>
<line x1="66.3" y1="487.60" x2="78.8" y2="487.60" stroke="#104b88" stroke-width="1.5"/>
<line x1="66.0" y1="507.50" x2="79.6" y2="507.50" stroke="#3cb44b" stroke-width="1.1" stroke-dasharray="0.9 0.85"/>
<text x="82.60" y="470.40" font-size="8.1" fill="#c8102e" text-anchor="start" font-weight="400" textLength="22.00" lengthAdjust="spacingAndGlyphs">No-PD</text>
<text x="82.60" y="490.20" font-size="8.1" fill="#1f5e9c" text-anchor="start" font-weight="400" textLength="9.40" lengthAdjust="spacingAndGlyphs">PD</text>
<text x="82.60" y="509.90" font-size="8.1" fill="#3cb44b" text-anchor="start" font-weight="400" textLength="36.60" lengthAdjust="spacingAndGlyphs">All patients</text>
<text x="124.80" y="455.60" font-size="7.4" fill="#231f20" text-anchor="start" font-weight="400" textLength="100.40" lengthAdjust="spacing" stroke="#231f20" stroke-width="0.42" stroke-linejoin="round">Events/total Median (95% CI)</text>
<text x="241.00" y="455.60" font-size="7.4" fill="#231f20" text-anchor="start" font-weight="400" textLength="45.10" lengthAdjust="spacing" stroke="#231f20" stroke-width="0.42" stroke-linejoin="round">HR* (95% CI)</text>
<text x="300.40" y="455.60" font-size="7.4" fill="#231f20" text-anchor="start" font-weight="400" textLength="37.10" lengthAdjust="spacing" stroke="#231f20" stroke-width="0.42" stroke-linejoin="round">Time-point</text>
<text x="352.50" y="455.60" font-size="7.4" fill="#231f20" text-anchor="start" font-weight="400" textLength="55.70" lengthAdjust="spacing" stroke="#231f20" stroke-width="0.42" stroke-linejoin="round">KM Est (95% CI)</text>
<text x="145.40" y="470.40" font-size="8.0" fill="#c8102e" text-anchor="middle" font-weight="400" textLength="31.07" lengthAdjust="spacingAndGlyphs">180/1763</text>
<text x="196.40" y="470.40" font-size="8.0" fill="#c8102e" text-anchor="middle" font-weight="400" textLength="39.20" lengthAdjust="spacingAndGlyphs">NE (NE-NE)</text>
<text x="263.40" y="470.40" font-size="8.0" fill="#c8102e" text-anchor="middle" font-weight="400" textLength="33.68" lengthAdjust="spacingAndGlyphs">Reference</text>
<text x="145.40" y="490.20" font-size="8.0" fill="#1f5e9c" text-anchor="middle" font-weight="400" textLength="26.93" lengthAdjust="spacingAndGlyphs">129/370</text>
<text x="196.40" y="490.20" font-size="8.0" fill="#1f5e9c" text-anchor="middle" font-weight="400" textLength="43.21" lengthAdjust="spacingAndGlyphs">NE (10.2-NE)</text>
<text x="263.40" y="490.20" font-size="8.0" fill="#1f5e9c" text-anchor="middle" font-weight="400" textLength="53.56" lengthAdjust="spacingAndGlyphs">3.58 (2.85, 4.49)</text>
<text x="145.40" y="509.90" font-size="8.0" fill="#3cb44b" text-anchor="middle" font-weight="400" textLength="31.07" lengthAdjust="spacingAndGlyphs">309/2133</text>
<text x="196.40" y="509.90" font-size="8.0" fill="#3cb44b" text-anchor="middle" font-weight="400" textLength="39.20" lengthAdjust="spacingAndGlyphs">NE (NE-NE)</text>
<text x="318.70" y="470.60" font-size="8.0" fill="#c8102e" text-anchor="middle" font-weight="400" textLength="23.40" lengthAdjust="spacingAndGlyphs">3 years</text>
<text x="380.10" y="470.60" font-size="8.0" fill="#c8102e" text-anchor="middle" font-weight="400" textLength="57.79" lengthAdjust="spacingAndGlyphs">99.1 (98.6-99.5%)</text>
<text x="318.70" y="480.00" font-size="8.0" fill="#c8102e" text-anchor="middle" font-weight="400" textLength="23.40" lengthAdjust="spacingAndGlyphs">5 years</text>
<text x="380.10" y="480.00" font-size="8.0" fill="#c8102e" text-anchor="middle" font-weight="400" textLength="57.79" lengthAdjust="spacingAndGlyphs">95.4 (94.2-96.3%)</text>
<text x="318.70" y="489.90" font-size="8.0" fill="#1f5e9c" text-anchor="middle" font-weight="400" textLength="23.40" lengthAdjust="spacingAndGlyphs">3 years</text>
<text x="380.10" y="489.90" font-size="8.0" fill="#1f5e9c" text-anchor="middle" font-weight="400" textLength="57.79" lengthAdjust="spacingAndGlyphs">88.3 (84.6-91.2%)</text>
<text x="318.70" y="499.20" font-size="8.0" fill="#1f5e9c" text-anchor="middle" font-weight="400" textLength="23.40" lengthAdjust="spacingAndGlyphs">5 years</text>
<text x="380.10" y="499.20" font-size="8.0" fill="#1f5e9c" text-anchor="middle" font-weight="400" textLength="57.79" lengthAdjust="spacingAndGlyphs">73.5 (68.5-77.8%)</text>
<text x="318.70" y="509.00" font-size="8.0" fill="#3cb44b" text-anchor="middle" font-weight="400" textLength="23.40" lengthAdjust="spacingAndGlyphs">3 years</text>
<text x="380.10" y="509.00" font-size="8.0" fill="#3cb44b" text-anchor="middle" font-weight="400" textLength="57.79" lengthAdjust="spacingAndGlyphs">97.3 (96.5-97.9%)</text>
<text x="318.70" y="518.60" font-size="8.0" fill="#3cb44b" text-anchor="middle" font-weight="400" textLength="23.40" lengthAdjust="spacingAndGlyphs">5 years</text>
<text x="380.10" y="518.60" font-size="8.0" fill="#3cb44b" text-anchor="middle" font-weight="400" textLength="57.79" lengthAdjust="spacingAndGlyphs">91.5 (90.2-92.7%)</text>
<text x="47.50" y="574.90" font-size="8.6" fill="#c8102e" text-anchor="end" font-weight="400" textLength="23.85" lengthAdjust="spacingAndGlyphs">No-PD</text>
<text x="61.00" y="574.90" font-size="8.6" fill="#c8102e" text-anchor="middle" font-weight="400" textLength="17.35" lengthAdjust="spacingAndGlyphs">1763</text>
<text x="114.18" y="574.90" font-size="8.6" fill="#c8102e" text-anchor="middle" font-weight="400" textLength="17.35" lengthAdjust="spacingAndGlyphs">1712</text>
<text x="167.36" y="574.90" font-size="8.6" fill="#c8102e" text-anchor="middle" font-weight="400" textLength="17.35" lengthAdjust="spacingAndGlyphs">1438</text>
<text x="220.54" y="574.90" font-size="8.6" fill="#c8102e" text-anchor="middle" font-weight="400" textLength="17.35" lengthAdjust="spacingAndGlyphs">1239</text>
<text x="273.72" y="574.90" font-size="8.6" fill="#c8102e" text-anchor="middle" font-weight="400" textLength="17.35" lengthAdjust="spacingAndGlyphs">1056</text>
<text x="326.90" y="574.90" font-size="8.6" fill="#c8102e" text-anchor="middle" font-weight="400" textLength="13.01" lengthAdjust="spacingAndGlyphs">899</text>
<text x="380.08" y="574.90" font-size="8.6" fill="#c8102e" text-anchor="middle" font-weight="400" textLength="13.01" lengthAdjust="spacingAndGlyphs">664</text>
<text x="433.26" y="574.90" font-size="8.6" fill="#c8102e" text-anchor="middle" font-weight="400" textLength="13.01" lengthAdjust="spacingAndGlyphs">548</text>
<text x="486.44" y="574.90" font-size="8.6" fill="#c8102e" text-anchor="middle" font-weight="400" textLength="13.01" lengthAdjust="spacingAndGlyphs">323</text>
<text x="47.50" y="587.50" font-size="8.6" fill="#1f5e9c" text-anchor="end" font-weight="400" textLength="11.04" lengthAdjust="spacingAndGlyphs">PD</text>
<text x="61.00" y="587.50" font-size="8.6" fill="#1f5e9c" text-anchor="middle" font-weight="400" textLength="13.01" lengthAdjust="spacingAndGlyphs">370</text>
<text x="114.18" y="587.50" font-size="8.6" fill="#1f5e9c" text-anchor="middle" font-weight="400" textLength="13.01" lengthAdjust="spacingAndGlyphs">322</text>
<text x="167.36" y="587.50" font-size="8.6" fill="#1f5e9c" text-anchor="middle" font-weight="400" textLength="13.01" lengthAdjust="spacingAndGlyphs">259</text>
<text x="220.54" y="587.50" font-size="8.6" fill="#1f5e9c" text-anchor="middle" font-weight="400" textLength="13.01" lengthAdjust="spacingAndGlyphs">220</text>
<text x="273.72" y="587.50" font-size="8.6" fill="#1f5e9c" text-anchor="middle" font-weight="400" textLength="13.01" lengthAdjust="spacingAndGlyphs">178</text>
<text x="326.90" y="587.50" font-size="8.6" fill="#1f5e9c" text-anchor="middle" font-weight="400" textLength="13.01" lengthAdjust="spacingAndGlyphs">139</text>
<text x="380.08" y="587.50" font-size="8.6" fill="#1f5e9c" text-anchor="middle" font-weight="400" textLength="13.01" lengthAdjust="spacingAndGlyphs">102</text>
<text x="433.26" y="587.50" font-size="8.6" fill="#1f5e9c" text-anchor="middle" font-weight="400" textLength="8.68" lengthAdjust="spacingAndGlyphs">80</text>
<text x="486.44" y="587.50" font-size="8.6" fill="#1f5e9c" text-anchor="middle" font-weight="400" textLength="8.68" lengthAdjust="spacingAndGlyphs">45</text>
<text x="47.50" y="599.90" font-size="8.6" fill="#3cb44b" text-anchor="end" font-weight="400" textLength="38.89" lengthAdjust="spacingAndGlyphs">All patients</text>
<text x="61.00" y="599.90" font-size="8.6" fill="#3cb44b" text-anchor="middle" font-weight="400" textLength="17.35" lengthAdjust="spacingAndGlyphs">2133</text>
<text x="114.18" y="599.90" font-size="8.6" fill="#3cb44b" text-anchor="middle" font-weight="400" textLength="17.35" lengthAdjust="spacingAndGlyphs">2034</text>
<text x="167.36" y="599.90" font-size="8.6" fill="#3cb44b" text-anchor="middle" font-weight="400" textLength="17.35" lengthAdjust="spacingAndGlyphs">1697</text>
<text x="220.54" y="599.90" font-size="8.6" fill="#3cb44b" text-anchor="middle" font-weight="400" textLength="17.35" lengthAdjust="spacingAndGlyphs">1459</text>
<text x="273.72" y="599.90" font-size="8.6" fill="#3cb44b" text-anchor="middle" font-weight="400" textLength="17.35" lengthAdjust="spacingAndGlyphs">1234</text>
<text x="326.90" y="599.90" font-size="8.6" fill="#3cb44b" text-anchor="middle" font-weight="400" textLength="17.35" lengthAdjust="spacingAndGlyphs">1038</text>
<text x="380.08" y="599.90" font-size="8.6" fill="#3cb44b" text-anchor="middle" font-weight="400" textLength="13.01" lengthAdjust="spacingAndGlyphs">766</text>
<text x="433.26" y="599.90" font-size="8.6" fill="#3cb44b" text-anchor="middle" font-weight="400" textLength="13.01" lengthAdjust="spacingAndGlyphs">628</text>
<text x="486.44" y="599.90" font-size="8.6" fill="#3cb44b" text-anchor="middle" font-weight="400" textLength="13.01" lengthAdjust="spacingAndGlyphs">368</text>
<text x="28.70" y="611.80" font-size="8.7" fill="#231f20" text-anchor="start" font-weight="400" textLength="154.00" lengthAdjust="spacingAndGlyphs">*Adjusted for gender; stratified by PS, FLIPI</text>
<rect x="0.5" y="0.5" width="519" height="619" fill="none" stroke="#1a1515" stroke-width="1"/>
</svg>
</body></html>
